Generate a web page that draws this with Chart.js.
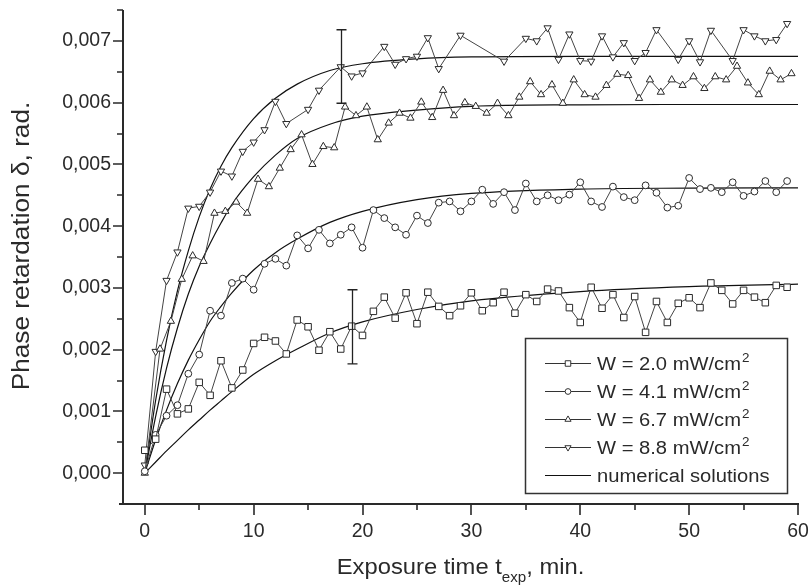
<!DOCTYPE html>
<html><head><meta charset="utf-8">
<script src="https://cdn.jsdelivr.net/npm/chart.js@4.4.1/dist/chart.umd.min.js"></script>
<style>html,body{margin:0;padding:0;background:#fff;}canvas{display:block;}</style>
</head><body>
<canvas id="c" width="809" height="585"></canvas>
<script>
// ---- data (delta in units of 10^-3 rad, time in minutes) ----
const timesInt = [0,1,2,3,4,5,6,7,8,9,10,11,12,13,14,15,16,17,18,19,20,21,22,23,24,25,26,27,28,29,30,31,32,33,34,35,36,37,38,39,40,41,42,43,44,45,46,47,48,49,50,51,52,53,54,55,56,57,58,59];
const timesUp = [0,1.4,2.4,3.4,4.4,5.4,6.4,7.4,8.4,9.4,10.4,11.4,12.4,13.4,14.4,15.4,16.4,17.4,18.4,19.4,20.4,21.4,22.4,23.4,24.4,25.4,26.4,27.4,28.4,29.4,30.4,31.4,32.4,33.4,34.4,35.4,36.4,37.4,38.4,39.4,40.4,41.4,42.4,43.4,44.4,45.4,46.4,47.4,48.4,49.4,50.4,51.4,52.4,53.4,54.4,55.4,56.4,57.4,58.4,59.4];
const timesDown = [0,1,2,3,4,5,6,7,8,9,10,11,12,13,15,16,18,19,20,22,23,24,25,26,27,29,33,35,36,37,38,39,40,41,42,43,44,45,46,47,49,50,51,52,54,55,56,57,58,59];

const w20 = [0.37,0.55,1.36,0.96,1.04,1.47,1.26,1.82,1.38,1.67,2.10,2.20,2.14,1.93,2.48,2.37,1.99,2.29,2.01,2.38,2.23,2.62,2.85,2.51,2.92,2.42,2.93,2.70,2.55,2.71,2.92,2.63,2.76,2.93,2.59,2.89,2.78,2.98,2.95,2.68,2.44,3.01,2.67,2.89,2.52,2.86,2.28,2.78,2.44,2.75,2.84,2.68,3.08,2.96,2.74,2.96,2.85,2.76,3.04,3.01];
const w41 = [0.03,0.62,0.93,1.10,1.61,1.92,2.63,2.55,3.08,3.15,2.97,3.39,3.47,3.36,3.85,3.64,3.94,3.72,3.86,3.98,3.65,4.26,4.13,3.98,3.86,4.17,4.05,4.38,4.40,4.24,4.40,4.59,4.36,4.55,4.26,4.69,4.40,4.50,4.42,4.51,4.71,4.40,4.31,4.64,4.47,4.42,4.66,4.54,4.30,4.33,4.78,4.60,4.62,4.55,4.71,4.49,4.56,4.73,4.55,4.73];
const w67 = [0,2.01,2.46,3.14,3.52,3.43,4.21,4.24,4.39,4.21,4.76,4.64,4.94,5.24,5.48,5.00,5.29,5.27,5.93,5.79,5.93,5.40,5.67,5.83,5.75,6.01,5.76,6.20,5.79,6.00,5.94,5.83,5.99,5.79,6.09,6.34,6.13,6.29,5.99,6.37,6.13,6.09,6.28,6.46,6.44,6.07,6.37,6.17,6.37,6.28,6.42,6.23,6.42,6.37,6.59,6.32,6.13,6.51,6.37,6.47];
const w88 = [0.13,1.97,3.12,3.58,4.29,4.32,4.55,4.89,4.81,5.21,5.36,5.56,6.02,5.66,5.89,6.20,6.58,6.43,6.48,6.91,6.62,6.71,6.75,7.05,6.55,7.09,6.67,7.04,7.00,7.21,6.70,7.11,6.68,6.67,7.08,6.74,6.97,6.68,6.81,7.18,6.70,7.00,6.66,7.17,6.68,7.18,7.08,7.00,7.02,7.28];

// numerical solutions
const curveTimes = [0,1,2,3,4,5,6,7,8,10,12,14,17,20,25,30,40,50,60];
const sol20 = [0,0.18,0.36,0.53,0.70,0.86,1.02,1.17,1.32,1.60,1.82,2.01,2.27,2.45,2.65,2.79,2.94,3.02,3.06];
const sol41 = [0,0.54,1.02,1.45,1.83,2.16,2.46,2.70,2.92,3.29,3.57,3.79,4.06,4.24,4.43,4.53,4.60,4.615,4.62];
const sol67 = [0,0.92,1.70,2.35,2.90,3.35,3.72,4.05,4.35,4.80,5.15,5.42,5.65,5.78,5.88,5.94,5.965,5.97,5.97];
const sol88 = [0,1.18,2.15,2.95,3.60,4.15,4.60,4.97,5.27,5.74,6.07,6.30,6.52,6.63,6.71,6.74,6.75,6.75,6.75];

// error bars: [time, low, high]
const errBars = [[18,5.99,7.18],[19,1.77,2.97]];

const yTickValues = [0,1,2,3,4,5,6,7];
const yTickLabels = ['0,000','0,001','0,002','0,003','0,004','0,005','0,006','0,007'];
const yMinorValues = [0.5,1.5,2.5,3.5,4.5,5.5,6.5,7.5];
const xTickValues = [0,10,20,30,40,50,60];
const xTickLabels = ['0','10','20','30','40','50','60'];
const xMinorValues = [5,15,25,35,45,55];

const seriesNames = ['W = 2.0 mW/cm','W = 4.1 mW/cm','W = 6.7 mW/cm','W = 8.8 mW/cm'];
const solutionName = 'numerical solutions';

// ---- chart ----
const INK = '#2a2a2a';
const FONT = '"Liberation Sans", Arial, sans-serif';
const pts = (xs, ys) => xs.map((t, i) => ({x: t, y: ys[i]}));

function dataSet(xs, ys, style, r, rot) {
  return {data: pts(xs, ys), showLine: true, borderColor: '#444', borderWidth: 1,
    pointStyle: style, pointRadius: r, pointHoverRadius: r, pointRotation: rot || 0,
    pointBackgroundColor: '#fff', pointBorderColor: '#2a2a2a', pointBorderWidth: 1, clip: false, order: 0};
}
function curveSet(ys) {
  return {data: pts(curveTimes, ys), showLine: true, borderColor: '#111', borderWidth: 1.2,
    pointRadius: 0, cubicInterpolationMode: 'monotone', clip: false, order: 1};
}

function drawMarker(ctx, style, x, y, r, rot) {
  ctx.beginPath();
  if (style === 'rect') {
    const s = Math.SQRT1_2 * r; ctx.rect(x - s, y - s, 2 * s, 2 * s);
  } else if (style === 'circle') {
    ctx.arc(x, y, r, 0, Math.PI * 2);
  } else {
    let a = rot ? Math.PI : 0;
    ctx.moveTo(x + Math.sin(a) * r, y - Math.cos(a) * r);
    for (let k = 0; k < 2; k++) { a += 2 * Math.PI / 3; ctx.lineTo(x + Math.sin(a) * r, y - Math.cos(a) * r); }
    ctx.closePath();
  }
  ctx.fillStyle = '#fff'; ctx.fill(); ctx.stroke();
}

function stretchText(ctx, txt, x, y, k) {
  ctx.save(); ctx.translate(x, y); ctx.scale(k, 1); ctx.fillText(txt, 0, 0); ctx.restore();
}

const decor = {
  id: 'decor',
  afterDatasetsDraw(chart) {
    const {ctx, scales: {x, y}} = chart;
    ctx.save(); ctx.strokeStyle = '#222'; ctx.lineWidth = 1.3;
    errBars.forEach(([t, lo, hi]) => {
      const px = Math.round(x.getPixelForValue(t)) + 0.5;
      const p1 = y.getPixelForValue(lo), p2 = y.getPixelForValue(hi);
      ctx.beginPath();
      ctx.moveTo(px, p1); ctx.lineTo(px, p2);
      ctx.moveTo(px - 5, p1); ctx.lineTo(px + 5, p1);
      ctx.moveTo(px - 5, p2); ctx.lineTo(px + 5, p2);
      ctx.stroke();
    });
    ctx.restore();
  },
  afterDraw(chart) {
    const {ctx, scales: {x, y}, chartArea: a} = chart;
    ctx.save();
    ctx.strokeStyle = INK; ctx.lineCap = 'butt';
    // axis lines
    ctx.lineWidth = 2;
    ctx.beginPath();
    ctx.moveTo(a.left, a.top); ctx.lineTo(a.left, a.bottom + 1);
    ctx.moveTo(a.left - 4, a.bottom); ctx.lineTo(a.right + 1, a.bottom);
    ctx.stroke();
    ctx.lineWidth = 1.6;
    ctx.beginPath();
    yTickValues.forEach(v => { const p = Math.round(y.getPixelForValue(v)); ctx.moveTo(a.left - 10, p); ctx.lineTo(a.left, p); });
    yMinorValues.forEach(v => { const p = Math.round(y.getPixelForValue(v)); ctx.moveTo(a.left - 6, p); ctx.lineTo(a.left, p); });
    xTickValues.forEach(v => { const p = Math.round(x.getPixelForValue(v)); ctx.moveTo(p, a.bottom); ctx.lineTo(p, a.bottom + 11); });
    xMinorValues.forEach(v => { const p = Math.round(x.getPixelForValue(v)); ctx.moveTo(p, a.bottom); ctx.lineTo(p, a.bottom + 6); });
    ctx.stroke();

    // axis titles
    ctx.fillStyle = INK;
    ctx.textBaseline = 'alphabetic';
    ctx.save();
    ctx.font = '23px ' + FONT;
    ctx.translate(29, 246); ctx.rotate(-Math.PI / 2); ctx.scale(1.14, 1);
    ctx.textAlign = 'center';
    ctx.fillText('Phase retardation \u03b4, rad.', 0, 0);
    ctx.restore();

    const p1 = 'Exposure time t', sub = 'exp', p2 = ', min.', K = 1.08;
    ctx.font = '22px ' + FONT; const w1 = ctx.measureText(p1).width * K, w3 = ctx.measureText(p2).width * K;
    ctx.font = '14px ' + FONT; const w2 = ctx.measureText(sub).width * K;
    let sx = (a.left + a.right) / 2 - (w1 + w2 + w3) / 2;
    ctx.textAlign = 'left';
    ctx.font = '22px ' + FONT; stretchText(ctx, p1, sx, 574, K); sx += w1;
    ctx.font = '14px ' + FONT; stretchText(ctx, sub, sx, 582, K); sx += w2;
    ctx.font = '22px ' + FONT; stretchText(ctx, p2, sx, 574, K);

    // legend
    ctx.lineWidth = 1.5; ctx.strokeStyle = '#333';
    ctx.strokeRect(525.5, 338.5, 262, 155);
    const styles = [['rect', 4.6, 0], ['circle', 3.4, 0], ['triangle', 4.2, 0], ['triangle', 4.2, 1]];
    const rows = [363, 391, 419, 447, 475];
    const LK = 1.12;
    ctx.lineWidth = 1;
    seriesNames.forEach((name, i) => {
      const cy = rows[i];
      ctx.strokeStyle = '#333';
      ctx.beginPath(); ctx.moveTo(545, cy + 0.5); ctx.lineTo(591, cy + 0.5); ctx.stroke();
      const [st, r, rot] = styles[i];
      drawMarker(ctx, st, 568, cy + 0.5, r * 0.85, rot);
      ctx.fillStyle = INK; ctx.font = '18px ' + FONT; ctx.textAlign = 'left';
      stretchText(ctx, name, 597, cy + 6.5, LK);
      const wn = ctx.measureText(name).width * LK;
      ctx.font = '12px ' + FONT; stretchText(ctx, '2', 597 + wn + 1, cy - 1.5, LK);
    });
    ctx.strokeStyle = '#111'; ctx.lineWidth = 1.2;
    ctx.beginPath(); ctx.moveTo(545, rows[4] + 0.5); ctx.lineTo(591, rows[4] + 0.5); ctx.stroke();
    ctx.fillStyle = INK; ctx.font = '18px ' + FONT;
    stretchText(ctx, solutionName, 597, rows[4] + 6.5, LK);
    ctx.restore();
  }
};

const zeroPad = s => { s.paddingLeft = 0; s.paddingRight = 0; s.paddingTop = 0; s.paddingBottom = 0; };

new Chart(document.getElementById('c'), {
  type: 'scatter',
  data: {datasets: [
    dataSet(timesInt, w20, 'rect', 4.6),
    dataSet(timesInt, w41, 'circle', 3.4),
    dataSet(timesUp, w67, 'triangle', 4.2),
    dataSet(timesDown, w88, 'triangle', 4.2, 180),
    curveSet(sol20), curveSet(sol41), curveSet(sol67), curveSet(sol88)
  ]},
  options: {
    responsive: false, animation: false, devicePixelRatio: 1,
    layout: {padding: {left: 0, right: 11, top: 10, bottom: 0}},
    plugins: {legend: {display: false}, tooltip: {enabled: false}},
    scales: {
      x: {type: 'linear', min: -2, max: 60,
        grid: {display: false, drawTicks: false}, border: {display: false},
        afterBuildTicks: s => { s.ticks = xTickValues.map(v => ({value: v})); },
        afterFit: s => { s.height = 81; zeroPad(s); },
        ticks: {padding: 16, color: INK, font: {family: FONT, size: 19.5},
          callback: (v) => xTickLabels[xTickValues.indexOf(v)] ?? ''}},
      y: {type: 'linear', min: -0.5, max: 7.5,
        grid: {display: false, drawTicks: false}, border: {display: false},
        afterBuildTicks: s => { s.ticks = yTickValues.map(v => ({value: v})); },
        afterFit: s => { s.width = 123; zeroPad(s); },
        ticks: {padding: 12, color: INK, font: {family: FONT, size: 19.5},
          callback: (v) => yTickLabels[yTickValues.indexOf(v)] ?? ''}}
    }
  },
  plugins: [decor]
});
</script>
</body></html>
